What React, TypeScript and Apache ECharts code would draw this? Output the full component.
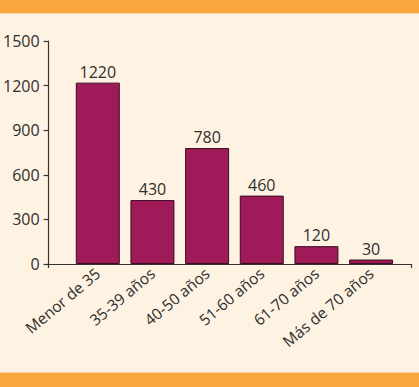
import React, { useEffect, useRef } from "react";
import * as echarts from "echarts";

const categories = ["Menor de 35", "35-39 años", "40-50 años", "51-60 años", "61-70 años", "Más de 70 años"];
const values = [1220, 430, 780, 460, 120, 30];
const categoryIndex = [0, 1, 2, 3, 4, 5];
const yMin = 0;
const yMax = 1500;
const yInterval = 300;

export default function App() {
  const ref = useRef<HTMLDivElement>(null);
  useEffect(() => {
    document.body.style.margin = "0";
    const chart = echarts.init(ref.current!, null, { renderer: "svg" });
    const font = "'Open Sans', sans-serif";
    const xMin = -0.9;
    const xMax = 5.73;
    chart.setOption({
      animation: false,
      backgroundColor: "#fef3e3",
      graphic: [
        { type: "rect", left: 0, top: 0, shape: { width: 419, height: 13 }, style: { fill: "#f8a63d" } },
        { type: "rect", left: 0, top: 13, shape: { width: 419, height: 1 }, style: { fill: "#fbd6a6" } },
        { type: "rect", left: 0, top: 373, shape: { width: 419, height: 14 }, style: { fill: "#f8a63d" } },
        { type: "rect", left: 0, top: 372, shape: { width: 419, height: 1 }, style: { fill: "#fbd6a6" } },
      ],
      grid: { left: 47, right: 8, top: 41, bottom: 123, containLabel: false },
      xAxis: {
        type: "value",
        min: xMin,
        max: xMax,
        splitLine: { show: false },
        axisLine: { show: true, onZero: false, lineStyle: { color: "#333", width: 1.2 } },
        axisTick: { show: true, customValues: [xMin, xMax], length: 4, lineStyle: { color: "#333", width: 1.2 } },
        axisLabel: {
          customValues: categoryIndex,
          formatter: (v: number) => categories[Math.round(v)] ?? "",
          rotate: 40,
          margin: 7,
          color: "#2e2e2e",
          fontSize: 15.5,
          fontFamily: font,
        },
      },
      yAxis: {
        type: "value",
        min: yMin,
        max: yMax,
        interval: yInterval,
        splitLine: { show: false },
        axisLine: { show: true, onZero: false, lineStyle: { color: "#333", width: 1.2 } },
        axisTick: { show: true, length: 5, lineStyle: { color: "#333", width: 1.2 } },
        axisLabel: { color: "#2e2e2e", fontSize: 16, fontFamily: font, margin: 9, formatter: (v: number) => String(v) },
      },
      series: [
        {
          type: "bar",
          data: values.map((v, i) => [categoryIndex[i], v]),
          barWidth: 44,
          itemStyle: { color: "#9f1a59", borderColor: "#3a0d1f", borderWidth: 1 },
          label: {
            show: true,
            position: "top",
            distance: 3,
            color: "#2e2e2e",
            fontSize: 16,
            fontFamily: font,
            formatter: (p: any) => String(p.value[1]),
          },
        },
      ],
    });
    return () => chart.dispose();
  }, []);
  return <div ref={ref} style={{ width: 419, height: 387 }} />;
}
